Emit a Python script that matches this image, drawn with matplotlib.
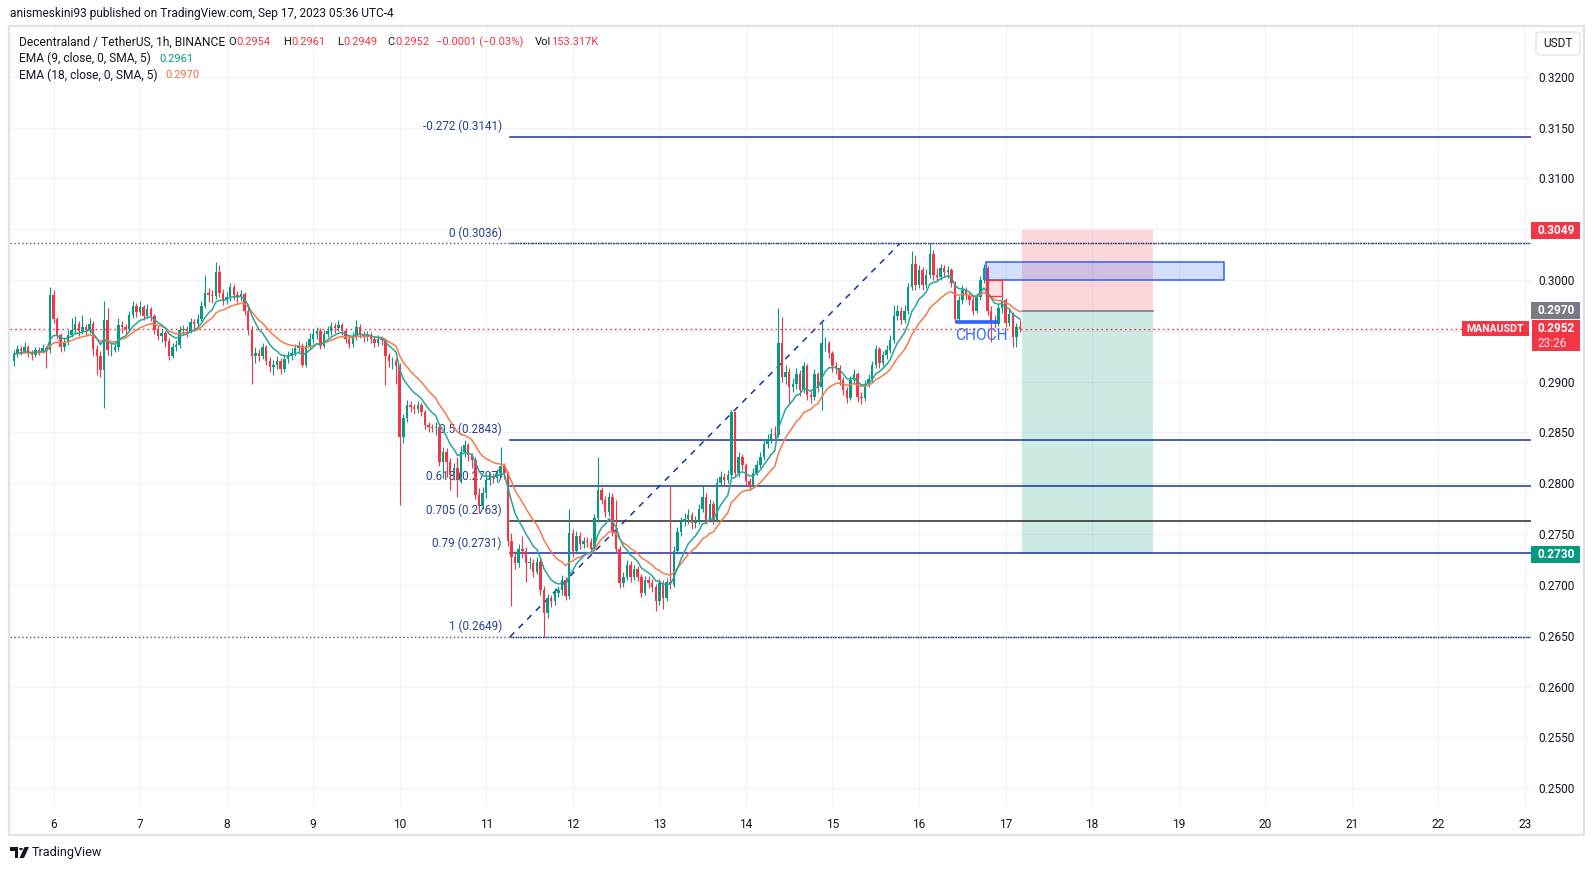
import numpy as np
import pandas as pd
import matplotlib
matplotlib.use("Agg")
import matplotlib.pyplot as plt
from matplotlib.patches import Rectangle, Polygon, Circle, FancyBboxPatch
from matplotlib.transforms import blended_transform_factory

# ---------------- data (hourly candles, MANA/USDT, Sep 5 13:00 -> Sep 17 04:00) -------------
first_open = 0.2920
start_day = 5 + 13 / 24

closes = [
    0.2927, 0.2932, 0.2930, 0.2934, 0.2928, 0.2926, 0.2931, 0.2930, 0.2933, 0.2931,
    0.2985, 0.2962, 0.2946, 0.2934, 0.2939, 0.2946, 0.2951, 0.2957, 0.2950, 0.2954,
    0.2951, 0.2957, 0.2932, 0.2925, 0.2911, 0.2961, 0.2931, 0.2931, 0.2934, 0.2956,
    0.2954, 0.2952, 0.2966, 0.2974, 0.2969, 0.2973, 0.2965, 0.2971, 0.2965, 0.2951,
    0.2945, 0.2948, 0.2940, 0.2925, 0.2934, 0.2936, 0.2951, 0.2952, 0.2950, 0.2959,
    0.2957, 0.2962, 0.2974, 0.2987, 0.2985, 0.2984, 0.3008, 0.2987, 0.2980, 0.2983,
    0.2993, 0.2985, 0.2983, 0.2986, 0.2970, 0.2951, 0.2925, 0.2928, 0.2925, 0.2934,
    0.2920, 0.2914, 0.2916, 0.2920, 0.2912, 0.2922, 0.2925, 0.2928, 0.2933, 0.2935,
    0.2916, 0.2935, 0.2942, 0.2947, 0.2950, 0.2935, 0.2947, 0.2950, 0.2955, 0.2953,
    0.2956, 0.2950, 0.2942, 0.2937, 0.2944, 0.2954, 0.2947, 0.2944, 0.2946, 0.2942,
    0.2938, 0.2942, 0.2941, 0.2925, 0.2920, 0.2920, 0.2915, 0.2846, 0.2864, 0.2877,
    0.2875, 0.2873, 0.2877, 0.2870, 0.2857, 0.2855, 0.2854, 0.2855, 0.2821, 0.2831,
    0.2821, 0.2808, 0.2815, 0.2803, 0.2831, 0.2838, 0.2828, 0.2823, 0.2789, 0.2778,
    0.2790, 0.2803, 0.2806, 0.2805, 0.2810, 0.2817, 0.2810, 0.2743, 0.2728, 0.2722,
    0.2735, 0.2733, 0.2722, 0.2722, 0.2713, 0.2723, 0.2695, 0.2672, 0.2687, 0.2684,
    0.2692, 0.2695, 0.2705, 0.2689, 0.2751, 0.2733, 0.2748, 0.2740, 0.2743, 0.2742,
    0.2735, 0.2766, 0.2793, 0.2784, 0.2772, 0.2787, 0.2752, 0.2735, 0.2702, 0.2708,
    0.2720, 0.2708, 0.2716, 0.2708, 0.2692, 0.2705, 0.2702, 0.2698, 0.2684, 0.2702,
    0.2687, 0.2703, 0.2700, 0.2733, 0.2752, 0.2762, 0.2765, 0.2769, 0.2761, 0.2763,
    0.2775, 0.2787, 0.2764, 0.2780, 0.2764, 0.2800, 0.2806, 0.2803, 0.2808, 0.2870,
    0.2810, 0.2826, 0.2818, 0.2802, 0.2797, 0.2810, 0.2818, 0.2826, 0.2839, 0.2843,
    0.2849, 0.2848, 0.2938, 0.2905, 0.2910, 0.2895, 0.2898, 0.2908, 0.2892, 0.2915,
    0.2887, 0.2885, 0.2908, 0.2895, 0.2938, 0.2938, 0.2928, 0.2915, 0.2913, 0.2902,
    0.2892, 0.2884, 0.2902, 0.2908, 0.2885, 0.2884, 0.2898, 0.2903, 0.2916, 0.2932,
    0.2918, 0.2926, 0.2931, 0.2941, 0.2965, 0.2970, 0.2961, 0.2970, 0.2993, 0.3016,
    0.2995, 0.3010, 0.2995, 0.3005, 0.3026, 0.3005, 0.3003, 0.3012, 0.3008, 0.3010,
    0.2997, 0.2962, 0.2980, 0.2990, 0.2985, 0.2980, 0.2970, 0.2983, 0.3000, 0.3012,
    0.2970, 0.2960, 0.2957, 0.2972, 0.2980, 0.2958, 0.2967, 0.2944, 0.2954, 0.2952,
]

highs = [
    0.2931, 0.2936, 0.2935, 0.2939, 0.2936, 0.2931, 0.2934, 0.2934, 0.2937, 0.2935,
    0.2993, 0.2990, 0.2964, 0.2948, 0.2943, 0.2951, 0.2963, 0.2965, 0.2960, 0.2966,
    0.2957, 0.2963, 0.2960, 0.2936, 0.2930, 0.2979, 0.2972, 0.2938, 0.2938, 0.2963,
    0.2960, 0.2957, 0.2970, 0.2979, 0.2977, 0.2979, 0.2975, 0.2976, 0.2973, 0.2967,
    0.2955, 0.2952, 0.2950, 0.2943, 0.2938, 0.2941, 0.2955, 0.2956, 0.2955, 0.2963,
    0.2962, 0.2967, 0.2979, 0.3005, 0.2992, 0.2990, 0.3018, 0.3015, 0.2991, 0.2988,
    0.2997, 0.2996, 0.2989, 0.2990, 0.2988, 0.2973, 0.2955, 0.2934, 0.2932, 0.2938,
    0.2936, 0.2924, 0.2921, 0.2925, 0.2923, 0.2927, 0.2930, 0.2933, 0.2937, 0.2940,
    0.2938, 0.2940, 0.2948, 0.2952, 0.2954, 0.2953, 0.2951, 0.2955, 0.2959, 0.2958,
    0.2961, 0.2958, 0.2953, 0.2946, 0.2949, 0.2961, 0.2957, 0.2950, 0.2950, 0.2949,
    0.2945, 0.2946, 0.2945, 0.2943, 0.2928, 0.2924, 0.2923, 0.2918, 0.2868, 0.2882,
    0.2881, 0.2878, 0.2881, 0.2879, 0.2872, 0.2860, 0.2858, 0.2860, 0.2857, 0.2836,
    0.2835, 0.2825, 0.2820, 0.2826, 0.2837, 0.2843, 0.2840, 0.2830, 0.2826, 0.2795,
    0.2796, 0.2808, 0.2811, 0.2810, 0.2814, 0.2836, 0.2820, 0.2812, 0.2751, 0.2733,
    0.2740, 0.2748, 0.2737, 0.2728, 0.2726, 0.2728, 0.2726, 0.2699, 0.2691, 0.2690,
    0.2697, 0.2699, 0.2710, 0.2708, 0.2775, 0.2755, 0.2753, 0.2752, 0.2747, 0.2747,
    0.2746, 0.2770, 0.2826, 0.2796, 0.2788, 0.2791, 0.2790, 0.2784, 0.2738, 0.2713,
    0.2725, 0.2724, 0.2720, 0.2719, 0.2711, 0.2709, 0.2709, 0.2706, 0.2701, 0.2706,
    0.2705, 0.2707, 0.2797, 0.2738, 0.2757, 0.2767, 0.2771, 0.2775, 0.2772, 0.2768,
    0.2780, 0.2797, 0.2790, 0.2785, 0.2783, 0.2805, 0.2812, 0.2810, 0.2813, 0.2872,
    0.2870, 0.2831, 0.2829, 0.2820, 0.2805, 0.2815, 0.2823, 0.2831, 0.2844, 0.2849,
    0.2854, 0.2856, 0.2972, 0.2964, 0.2916, 0.2913, 0.2904, 0.2913, 0.2911, 0.2919,
    0.2917, 0.2891, 0.2912, 0.2910, 0.2959, 0.2944, 0.2940, 0.2930, 0.2919, 0.2916,
    0.2905, 0.2895, 0.2906, 0.2912, 0.2910, 0.2890, 0.2902, 0.2908, 0.2920, 0.2936,
    0.2934, 0.2930, 0.2936, 0.2946, 0.2975, 0.2975, 0.2973, 0.2975, 0.2997, 0.3029,
    0.3025, 0.3015, 0.3013, 0.3011, 0.3036, 0.3030, 0.3012, 0.3016, 0.3015, 0.3014,
    0.3012, 0.2999, 0.2984, 0.2995, 0.2993, 0.2988, 0.2984, 0.2987, 0.3004, 0.3016,
    0.3014, 0.2974, 0.2966, 0.2976, 0.2984, 0.2982, 0.2971, 0.2969, 0.2958, 0.2961,
]

lows = [
    0.2915, 0.2924, 0.2926, 0.2928, 0.2924, 0.2921, 0.2924, 0.2926, 0.2928, 0.2913,
    0.2928, 0.2958, 0.2942, 0.2929, 0.2930, 0.2936, 0.2944, 0.2948, 0.2945, 0.2947,
    0.2946, 0.2948, 0.2925, 0.2907, 0.2905, 0.2874, 0.2926, 0.2925, 0.2929, 0.2930,
    0.2948, 0.2947, 0.2950, 0.2963, 0.2964, 0.2966, 0.2961, 0.2963, 0.2960, 0.2947,
    0.2941, 0.2939, 0.2934, 0.2921, 0.2923, 0.2930, 0.2933, 0.2946, 0.2944, 0.2948,
    0.2952, 0.2955, 0.2960, 0.2972, 0.2978, 0.2977, 0.2981, 0.2983, 0.2975, 0.2976,
    0.2979, 0.2980, 0.2977, 0.2979, 0.2966, 0.2946, 0.2898, 0.2918, 0.2920, 0.2922,
    0.2916, 0.2910, 0.2907, 0.2912, 0.2908, 0.2910, 0.2918, 0.2921, 0.2925, 0.2929,
    0.2914, 0.2914, 0.2932, 0.2938, 0.2942, 0.2932, 0.2933, 0.2944, 0.2946, 0.2948,
    0.2950, 0.2946, 0.2938, 0.2933, 0.2934, 0.2941, 0.2943, 0.2939, 0.2940, 0.2938,
    0.2934, 0.2935, 0.2936, 0.2897, 0.2914, 0.2912, 0.2898, 0.2779, 0.2840, 0.2860,
    0.2870, 0.2868, 0.2869, 0.2866, 0.2853, 0.2850, 0.2850, 0.2848, 0.2817, 0.2805,
    0.2806, 0.2793, 0.2803, 0.2787, 0.2800, 0.2826, 0.2822, 0.2815, 0.2785, 0.2771,
    0.2775, 0.2786, 0.2798, 0.2800, 0.2801, 0.2806, 0.2804, 0.2738, 0.2679, 0.2716,
    0.2718, 0.2727, 0.2703, 0.2716, 0.2708, 0.2711, 0.2690, 0.2649, 0.2668, 0.2678,
    0.2680, 0.2688, 0.2690, 0.2685, 0.2686, 0.2728, 0.2730, 0.2735, 0.2736, 0.2737,
    0.2731, 0.2733, 0.2762, 0.2780, 0.2767, 0.2768, 0.2748, 0.2731, 0.2697, 0.2698,
    0.2705, 0.2703, 0.2705, 0.2704, 0.2688, 0.2690, 0.2697, 0.2693, 0.2674, 0.2680,
    0.2676, 0.2684, 0.2696, 0.2698, 0.2730, 0.2748, 0.2758, 0.2760, 0.2755, 0.2756,
    0.2760, 0.2772, 0.2760, 0.2762, 0.2760, 0.2762, 0.2797, 0.2798, 0.2800, 0.2805,
    0.2806, 0.2806, 0.2813, 0.2798, 0.2793, 0.2795, 0.2808, 0.2815, 0.2823, 0.2835,
    0.2840, 0.2843, 0.2846, 0.2900, 0.2898, 0.2878, 0.2890, 0.2893, 0.2886, 0.2889,
    0.2882, 0.2879, 0.2882, 0.2890, 0.2872, 0.2930, 0.2923, 0.2910, 0.2908, 0.2897,
    0.2887, 0.2879, 0.2882, 0.2898, 0.2880, 0.2878, 0.2881, 0.2895, 0.2900, 0.2913,
    0.2913, 0.2915, 0.2922, 0.2928, 0.2938, 0.2961, 0.2957, 0.2958, 0.2967, 0.2990,
    0.2990, 0.2992, 0.2990, 0.2992, 0.3002, 0.3000, 0.2998, 0.3000, 0.3003, 0.3002,
    0.2993, 0.2958, 0.2960, 0.2976, 0.2980, 0.2975, 0.2966, 0.2968, 0.2980, 0.2997,
    0.2966, 0.2939, 0.2953, 0.2955, 0.2968, 0.2954, 0.2955, 0.2934, 0.2934, 0.2949,
]

fib_names = ["-0.272", "0", "0.5", "0.618", "0.705", "0.79", "1"]
fib_prices = [0.3141, 0.3036, 0.2843, 0.2797, 0.2763, 0.2731, 0.2649]

day_ticks = list(range(6, 24))
price_grid = [0.2500, 0.2550, 0.2600, 0.2650, 0.2700, 0.2750, 0.2800, 0.2850,
              0.2900, 0.2950, 0.3000, 0.3050, 0.3100, 0.3150, 0.3200]
# labels at 0.2950 and 0.3050 are covered by the price tags in the reference
price_labels = [0.2500, 0.2550, 0.2600, 0.2650, 0.2700, 0.2750, 0.2800, 0.2850,
                0.2900, 0.3000, 0.3100, 0.3150, 0.3200]

last_price = 0.2952
stop_price = 0.3049
entry_price = 0.2970
target_price = 0.2730
choch_price = 0.29585
zone_blue = (0.30000, 0.30174)
zone_red = (0.29846, 0.30000)

# ---------------- style ----------------
UP = "#089981"
DN = "#F23645"
TXT = "#131722"
EMA9_C = "#26A69A"
EMA18_C = "#F57B4B"
FIB_C = "#17359B"
FIB_T = "#2B3F8F"
GRID = "#F0F3FA"

W, H, DPI = 1595, 871, 100
plt.rcParams["font.family"] = ["Roboto", "DejaVu Sans"]

fig = plt.figure(figsize=(W / DPI, H / DPI), dpi=DPI)
fig.patch.set_facecolor("white")
L, R, T, B = 10, 1531, 26, 807
ax = fig.add_axes([L / W, 1 - B / H, (R - L) / W, (B - T) / H])
XMIN, XMAX = 5.4974, 23.071
YMIN, YMAX = 0.24816, 0.324987
ax.set_xlim(XMIN, XMAX)
ax.set_ylim(YMIN, YMAX)
for s in ax.spines.values():
    s.set_visible(False)
ppx = (YMAX - YMIN) / (B - T)   # price per pixel

# grid
for v in price_grid:
    ax.axhline(v, color=GRID, lw=0.9, zorder=0)
for d in day_ticks:
    ax.axvline(d, color=GRID, lw=0.9, zorder=0)

# candles
c = np.array(closes)
o = np.array([first_open] + closes[:-1])
h = np.maximum(np.array(highs), np.maximum(o, c))
l = np.minimum(np.array(lows), np.minimum(o, c))
x = start_day + np.arange(len(c)) / 24
col = np.where(c >= o, UP, DN)
ax.vlines(x, l, h, colors=col, lw=0.8, zorder=4)
body = np.maximum(np.abs(c - o), 0.00004)
ax.bar(x, body, bottom=np.minimum(o, c), width=0.68 / 24, color=col, lw=0, zorder=4)

# EMAs
cs = pd.Series(c)
ema9 = cs.ewm(span=9, adjust=False).mean()
ema18 = cs.ewm(span=18, adjust=False).mean()
ax.plot(x, ema18, color=EMA18_C, lw=1.1, zorder=5)
ax.plot(x, ema9, color=EMA9_C, lw=1.1, zorder=5)

# current price dotted line
ax.axhline(last_price, color=DN, lw=1.0, ls=(0, (1.2, 2.2)), zorder=3)

# fib retracement
fib_x0 = 11.274
fib_label_x = 11.18
for name, p in zip(fib_names, fib_prices):
    if name in ("0", "1"):
        ax.plot([XMIN, XMAX], [p, p], color="#5A6070", lw=1.0, ls=(0, (1, 1.8)), zorder=2)
        ax.plot([fib_x0, XMAX], [p, p], color=FIB_C, lw=1.0, ls=(0, (1, 0.8)), zorder=2)
    else:
        lc = "#2a2a2a" if name == "0.705" else FIB_C
        ax.plot([fib_x0, XMAX], [p, p], color=lc, lw=1.1, zorder=2)
    ax.annotate(f"{name} ({p:.4f})", (fib_label_x, p), xytext=(0, 3.5),
                textcoords="offset pixels", ha="right", va="bottom",
                color=FIB_T, fontsize=8.4, zorder=2)
# diagonal of fib
ax.plot([fib_x0, 15.78], [fib_prices[-1], fib_prices[1]], color=FIB_C, lw=1.1,
        ls=(0, (4, 4)), zorder=2)

# short position tool
px0, px1 = 17.19, 18.698
ax.add_patch(Rectangle((px0, entry_price), px1 - px0, stop_price - entry_price,
                       facecolor=(242/255, 54/255, 69/255, 0.2), edgecolor="none", zorder=1))
ax.add_patch(Rectangle((px0, target_price), px1 - px0, entry_price - target_price,
                       facecolor=(8/255, 153/255, 129/255, 0.2), edgecolor="none", zorder=1))
ax.plot([px0, px1], [entry_price, entry_price], color="#787B86", lw=1.2, zorder=2)

# supply zone (blue) and order block (red)
ax.add_patch(Rectangle((16.777, zone_blue[0]), 19.52 - 16.777, zone_blue[1] - zone_blue[0],
                       facecolor=(41/255, 98/255, 255/255, 0.2), edgecolor="#2962FF",
                       lw=1.1, zorder=6))
ax.add_patch(Rectangle((16.774, zone_red[0]), 16.955 - 16.774, zone_red[1] - zone_red[0],
                       facecolor=(242/255, 54/255, 69/255, 0.15), edgecolor="#F23645",
                       lw=1.0, zorder=6))
# CHOCH
ax.plot([16.427, 16.916], [choch_price, choch_price], color="#2962FF", lw=2.6,
        solid_capstyle="butt", zorder=7)
ax.text(16.72, 0.29452, "CHOCH", color="#3D6EF5", fontsize=11.2, ha="center",
        va="center", zorder=7)

# axes ticks
ax.set_xticks(day_ticks)
ax.set_xticklabels([str(d) for d in day_ticks])
ax.tick_params(axis="x", length=0, pad=8, labelsize=8.6, labelcolor=TXT)
ax.yaxis.tick_right()
ax.set_yticks(price_labels)
ax.set_yticklabels([f"{v:.4f}" for v in price_labels])
ax.tick_params(axis="y", length=0, pad=5, labelsize=8.6, labelcolor=TXT)

# price-scale tags
btr = blended_transform_factory(ax.transAxes, ax.transData)
def ax_x(px):
    return (px - L) / (R - L)

def tag(x0, x1, yc, hpx, fc, text, fs=8.6, center=False):
    ax.add_patch(Rectangle((ax_x(x0), yc - hpx / 2 * ppx), (x1 - x0) / (R - L), hpx * ppx,
                           transform=btr, facecolor=fc, edgecolor="none",
                           clip_on=False, zorder=20))
    if center:
        ax.text(ax_x((x0 + x1) / 2), yc, text, transform=btr, color="white", fontsize=fs,
                fontweight="bold", ha="center", va="center", clip_on=False, zorder=21)
    else:
        ax.text(ax_x(x0 + 7), yc, text, transform=btr, color="white", fontsize=fs,
                fontweight="bold", ha="left", va="center", clip_on=False, zorder=21)

tag(1531, 1580, stop_price, 17, DN, "0.3049")
tag(1531, 1580, entry_price, 17, "#787B86", "0.2970")
tag(1531, 1580, target_price, 17, UP, "0.2730")
# two-line last price tag
ax.add_patch(Rectangle((ax_x(1532), last_price - 22.5 * ppx), 48 / (R - L), 31 * ppx,
                       transform=btr, facecolor=DN, edgecolor="none", clip_on=False, zorder=20))
ax.text(ax_x(1538), last_price, "0.2952", transform=btr, color="white", fontsize=8.6,
        fontweight="bold", ha="left", va="center", clip_on=False, zorder=21)
ax.text(ax_x(1538), last_price - 14.5 * ppx, "23:26", transform=btr, color="#FFE3E5",
        fontsize=8.6, ha="left", va="center", clip_on=False, zorder=21)
tag(1462, 1529, last_price, 15, DN, "MANAUSDT", fs=7.6, center=True)

# ---------------- figure-level decoration ----------------
renderer = fig.canvas.get_renderer()

def put(xpx, ypx, s, color=TXT, size=9.0, fit=None, **kw):
    t = fig.text(xpx / W, 1 - ypx / H, s, color=color, fontsize=size, ha="left",
                 va="center", **kw)
    if fit:
        w = t.get_window_extent(renderer).width
        t.set_fontsize(size * fit / w)
    return t

def wid(t):
    return t.get_window_extent(renderer).width

def pair(x0, y, lab, val, vcol, size):
    t1 = put(x0, y, lab, size=size)
    put(x0 + wid(t1) + 0.3, y, val, color=vcol, size=size)

put(10, 13.5, "anismeskini93 published on TradingView.com, Sep 17, 2023 05:36 UTC-4",
    size=9.0, fit=386)

y1 = 42
t = put(18.6, y1, "Decentraland / TetherUS, 1h, BINANCE", size=9.2, fit=204.8)
fs = t.get_fontsize()
fs2 = fs * 0.93
pair(228, y1, "O", "0.2954", DN, fs2)
pair(283, y1, "H", "0.2961", DN, fs2)
pair(337, y1, "L", "0.2949", DN, fs2)
pair(387.5, y1, "C", "0.2952", DN, fs2)
put(436, y1, "\u22120.0001 (\u22120.03%)", color=DN, size=fs2)
pair(534.6, y1, "Vol", "153.317K", DN, fs2)

put(18.6, 58.5, "EMA (9, close, 0, SMA, 5)", size=fs)
put(159.4, 58.5, "0.2961", color=UP, size=fs2)
put(18.6, 75, "EMA (18, close, 0, SMA, 5)", size=fs)
put(165.3, 75, "0.2970", color="#F5703C", size=fs2)

# USDT button
fig.patches.append(FancyBboxPatch(((1536) / W, 1 - 55 / H), 44 / W, 23 / H,
                                  boxstyle="round,pad=0,rounding_size=0.003",
                                  transform=fig.transFigure, facecolor="white",
                                  edgecolor="#E0E3EB", lw=1.0))
fig.text(1558 / W, 1 - 43.5 / H, "USDT", color=TXT, fontsize=8.6, ha="center", va="center")

# outer frame
fig.patches.append(Rectangle((8.5 / W, 1 - 835 / H), (1584 - 8.5) / W, (835 - 26) / H,
                             transform=fig.transFigure, fill=False,
                             edgecolor="#E0E3EB", lw=1.6))

# TradingView logo + text
def fp(pts):
    return [(px / W, 1 - py / H) for px, py in pts]
fig.patches.append(Polygon(fp([(10, 847), (18, 847), (18, 858), (14.5, 858), (14.5, 850.5),
                               (10, 850.5)]), closed=True, transform=fig.transFigure,
                           facecolor=TXT, edgecolor="none"))
fig.patches.append(Circle((21 / W, 1 - 849 / H), 1.9 / W, transform=fig.transFigure,
                          facecolor=TXT, edgecolor="none"))
fig.patches.append(Polygon(fp([(24.5, 847), (29, 847), (24, 858), (19.5, 858)]), closed=True,
                           transform=fig.transFigure, facecolor=TXT, edgecolor="none"))
put(32, 852.5, "TradingView", size=9.0, fit=71)

fig.savefig("out.png", dpi=DPI, facecolor="white")
